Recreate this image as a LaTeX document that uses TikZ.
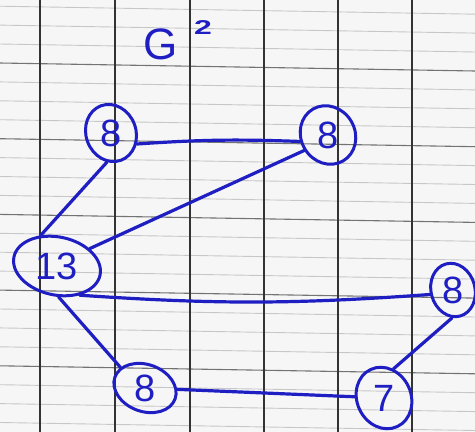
\documentclass[tikz,border=0pt]{standalone}
\usepackage{fontspec}
\setmainfont{Liberation Sans}
\usetikzlibrary{shapes.geometric}
\definecolor{ink}{RGB}{30,30,195}
\definecolor{paper}{RGB}{246,246,246}
\tikzset{
  vtx/.style={ellipse, draw=ink, line width=3pt, inner sep=0pt, text=ink,
    font=\fontsize{38}{38}\selectfont},
  edge/.style={draw=ink, line width=3.2pt, line cap=round},
  vline/.style={draw=black!80, line width=1.6pt},
  hheavy/.style={draw=black!55, line width=1.1pt},
  hthin/.style={draw=black!22, line width=0.9pt}
}
\begin{document}
\begin{tikzpicture}[x=1pt,y=-1pt]
\useasboundingbox (0,0) rectangle (475,432);
\fill[paper] (0,0) rectangle (475,432);
% grid
\foreach \k in {-1,...,5}{
  \foreach \j in {1,2,3}{
    \draw[hthin] (0,{63+75.7*\k+18.9*\j}) -- (475,{71+75.7*\k+18.9*\j});
  }
  \draw[hheavy] (0,{63+75.7*\k}) -- (475,{71+75.7*\k});
}
\foreach \x in {40,115,190,264,338,412}{
  \draw[vline] (\x,0) -- (\x,432);
}
% title
\node[text=ink, font=\fontsize{44}{44}\selectfont] (title) at (161,44) {G};
\node[text=ink, font=\fontsize{20}{20}\selectfont\bfseries] (sup) at (203,28) {\scalebox{1.6}[1]{2}};
% vertices
\node[vtx, minimum width=58pt, minimum height=50pt, rotate=-70] (tl) at (111,133) {\rotatebox{70}{8}};
\node[vtx, minimum width=60pt, minimum height=54pt, rotate=-60] (tr) at (328,135) {\rotatebox{60}{8}};
\node[vtx, minimum width=88pt, minimum height=58pt, rotate=-12] (c) at (57,266) {\rotatebox{12}{13}};
\node[vtx, minimum width=54pt, minimum height=44pt, rotate=-75] (r) at (453,290) {\rotatebox{75}{8}};
\node[vtx, minimum width=64pt, minimum height=47pt, rotate=-20] (b) at (145,388) {\rotatebox{20}{8}};
\node[vtx, minimum width=63pt, minimum height=54pt, rotate=-65] (s) at (384,398) {\rotatebox{65}{7}};
% edges
\draw[edge] (tl.47) to[bend left=3] (tr.253);
\draw[edge] (tr.273) -- (c.40);
\draw[edge] (tl.-28) -- (c.130);
\draw[edge] (c.-40) to[bend right=4] (r.266);
\draw[edge] (c.-75) -- (b.160);
\draw[edge] (b) -- (s);
\draw[edge] (r.-17) -- (s.137);
\end{tikzpicture}
\end{document}
